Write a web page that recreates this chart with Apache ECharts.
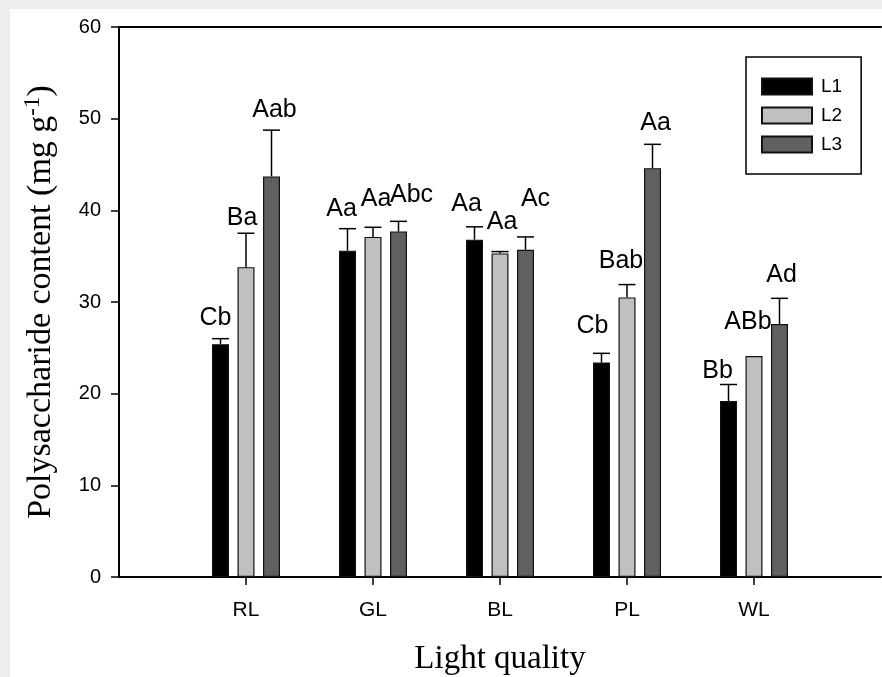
<!DOCTYPE html>
<html>
<head>
<meta charset="utf-8">
<script src="https://cdn.jsdelivr.net/npm/echarts@6/dist/echarts.min.js"></script>
<style>
html,body{margin:0;padding:0;background:#eeeeee;}
#chart{width:882px;height:677px;}
</style>
</head>
<body>
<div id="chart"></div>
<script>
// ---- data ----
const categories = ['RL', 'GL', 'BL', 'PL', 'WL'];
const seriesNames = ['L1', 'L2', 'L3'];
const l1Values = [25.4, 35.6, 36.8, 23.4, 19.2];
const l2Values = [33.8, 37.1, 35.3, 30.5, 24.1];
const l3Values = [43.7, 37.7, 35.7, 44.6, 27.6];
const l1Errors = [0.6, 2.4, 1.4, 1.0, 1.8];
const l2Errors = [3.7, 1.05, 0.2, 1.4, 0];
const l3Errors = [5.05, 1.1, 1.4, 2.6, 2.8];
const l1Letters = ['Cb', 'Aa', 'Aa', 'Cb', 'Bb'];
const l2Letters = ['Ba', 'Aa', 'Aa', 'Bab', 'ABb'];
const l3Letters = ['Aab', 'Abc', 'Ac', 'Aa', 'Ad'];
const yMin = 0, yMax = 60, yInterval = 10;

// ---- layout / style (not data) ----
const labelShiftX = [[-5, -6, -8, -9, -11], [-4, 3, 2, -6, -6], [3, 13, 10, 3, 2]];
const labelRaise = [[13, 12, 15, 20, 6], [8, 21, 22, 16, 26], [13, 19, 30, 14, 16]];
const colors = ['#000000', '#c0c0c0', '#606060'];
const barWidth = 17;
const barPitch = 25.5;

const values = [l1Values, l2Values, l3Values];
const errors = [l1Errors, l2Errors, l3Errors];
const letters = [l1Letters, l2Letters, l3Letters];
const axisCats = [''].concat(categories, ['']);

const sans = 'Liberation Sans, Arial, sans-serif';
const serif = 'Liberation Serif, Times New Roman, serif';

const series = [];
seriesNames.forEach(function (name, k) {
  series.push({
    name: name,
    type: 'bar',
    barWidth: barWidth,
    barGap: '50%',
    itemStyle: { color: colors[k], borderColor: '#111', borderWidth: 1.2 },
    data: ['-'].concat(values[k], ['-']),
    z: 2
  });
});
seriesNames.forEach(function (name, k) {
  series.push({
    name: 'err' + name,
    type: 'custom',
    z: 5,
    silent: true,
    data: categories.map(function (c, i) { return [i + 1, values[k][i], errors[k][i], i]; }),
    renderItem: function (params, api) {
      const idx = api.value(0), v = api.value(1), e = api.value(2), i = api.value(3);
      const off = (k - 1) * barPitch;
      const base = api.coord([idx, v]);
      const top = api.coord([idx, v + e]);
      const x = base[0] + off;
      const children = [];
      if (e > 0) {
        children.push({ type: 'line', shape: { x1: x, y1: base[1], x2: x, y2: top[1] }, style: { stroke: '#000', lineWidth: 1.5 } });
        children.push({ type: 'line', shape: { x1: x - barWidth / 2, y1: top[1], x2: x + barWidth / 2, y2: top[1] }, style: { stroke: '#000', lineWidth: 1.5 } });
      }
      children.push({
        type: 'text',
        x: x + labelShiftX[k][i],
        y: top[1] - labelRaise[k][i] + 5,
        style: { text: letters[k][i], fontSize: 25, fontFamily: sans, fill: '#000', align: 'center', verticalAlign: 'bottom' }
      });
      return { type: 'group', children: children };
    }
  });
});

const chart = echarts.init(document.getElementById('chart'));
chart.setOption({
  backgroundColor: '#eeeeee',
  animation: false,
  graphic: [{ type: 'rect', left: 10, top: 9, shape: { width: 872, height: 668 }, style: { fill: '#ffffff' }, z: -10, silent: true }],
  grid: { left: 119, right: 1, top: 27, bottom: 100, containLabel: false, outerBoundsMode: 'none' },
  legend: {
    data: seriesNames,
    orient: 'vertical',
    left: 746,
    top: 57,
    padding: [20, 19, 20, 15],
    itemWidth: 50,
    itemHeight: 16,
    itemGap: 10,
    icon: 'rect',
    borderColor: '#000',
    borderWidth: 1.5,
    textStyle: { fontSize: 19, fontFamily: sans, color: '#000', padding: [0, 0, 0, 4] }
  },
  xAxis: [{
    type: 'category',
    data: axisCats,
    boundaryGap: false,
    name: 'Light quality',
    nameLocation: 'middle',
    nameGap: 66,
    nameTextStyle: { fontSize: 33, fontFamily: serif, color: '#000' },
    axisLine: { lineStyle: { color: '#000', width: 2 } },
    axisTick: { length: 8, lineStyle: { color: '#000', width: 1.5 }, interval: function (i, v) { return v !== ''; } },
    axisLabel: { fontSize: 21, fontFamily: sans, color: '#000', margin: 23, interval: 0 },
    splitLine: { show: false }
  }, {
    type: 'category',
    data: axisCats,
    boundaryGap: false,
    position: 'top',
    axisLine: { lineStyle: { color: '#000', width: 2 } },
    axisTick: { show: false },
    axisLabel: { show: false }
  }],
  yAxis: {
    type: 'value',
    min: yMin,
    max: yMax,
    interval: yInterval,
    name: '{t|Polysaccharide content (mg g}{s|-1}{t|)}',
    nameLocation: 'middle',
    nameRotate: 90,
    nameGap: 58,
    nameTextStyle: {
      rich: {
        t: { fontSize: 34, fontFamily: serif, color: '#000', lineHeight: 40 },
        s: { fontSize: 23, fontFamily: serif, color: '#000', verticalAlign: 'top', lineHeight: 40 }
      }
    },
    axisLine: { show: true, lineStyle: { color: '#000', width: 2 } },
    axisTick: { show: true, length: 8, lineStyle: { color: '#000', width: 1.5 } },
    axisLabel: { fontSize: 20, fontFamily: sans, color: '#000', margin: 18 },
    splitLine: { show: false }
  },
  series: series
});
</script>
</body>
</html>
